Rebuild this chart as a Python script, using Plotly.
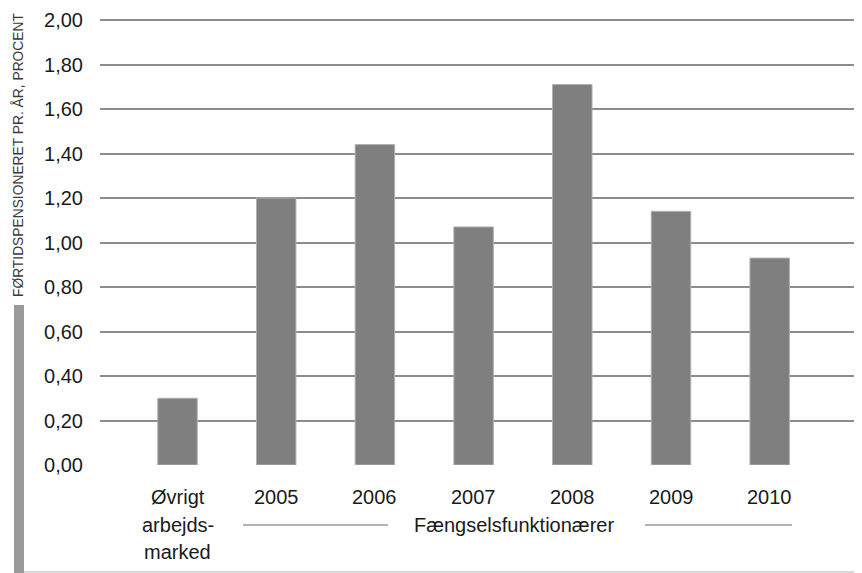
import plotly.graph_objects as go

categories = ["Øvrigt", "2005", "2006", "2007", "2008", "2009", "2010"]
values = [0.30, 1.20, 1.44, 1.07, 1.71, 1.14, 0.93]
extra_lines = ["arbejds-", "marked"]
group_label = "Fængselsfunktionærer"
y_title = "FØRTIDSPENSIONERET PR. ÅR, PROCENT"
y_ticks = [0.0, 0.2, 0.4, 0.6, 0.8, 1.0, 1.2, 1.4, 1.6, 1.8, 2.0]

# page coordinates (browser body has an 8px margin)
OFF = 8
W, H = 862, 573
Y0_PX, Y2_PX = 465, 20          # pixel rows of 0,00 and 2,00
PAD_TOP = 4                     # extra space above the 2,00 line
PL, PR, PT, PB = 100, 862, Y2_PX - PAD_TOP, Y0_PX
PW, PH = PR - PL, PB - PT
FONT = "Liberation Sans, Arial, Helvetica, sans-serif"
y_max = 2.0 * PH / (Y0_PX - Y2_PX)

xs = list(range(len(categories)))
x0_px = 177.5
px_per_unit = 98.7
x_range = [(PL - x0_px) / px_per_unit, (PR - x0_px) / px_per_unit]


def px_to_x(px):
    return (px - x0_px) / px_per_unit


def py_to_paper(py):
    return (PB - py) / PH


def px_to_paper(px):
    return (px - PL) / PW


fig = go.Figure()
fig.add_trace(go.Bar(
    x=xs, y=values, width=0.4,
    marker=dict(color="#7f7f7f", line=dict(color="#b0b0b0", width=1)),
    hoverinfo="y",
))

annotations = []
for i, c in enumerate(categories):
    annotations.append(dict(x=i, y=0, xref="x", yref="paper", text=c,
                            showarrow=False, yanchor="middle", yshift=-32,
                            font=dict(size=20, color="#1a1a1a", family=FONT)))
for j, t in enumerate(extra_lines):
    annotations.append(dict(x=0, y=0, xref="x", yref="paper", text=t,
                            showarrow=False, yanchor="middle", yshift=-60 - 27 * j,
                            font=dict(size=20, color="#1a1a1a", family=FONT)))
annotations.append(dict(x=px_to_x(514), y=py_to_paper(525), xref="x", yref="paper",
                        text=group_label, showarrow=False, yanchor="middle",
                        font=dict(size=20, color="#1a1a1a", family=FONT)))
annotations.append(dict(x=px_to_paper(18), y=py_to_paper(155), xref="paper", yref="paper",
                        text=y_title, showarrow=False, textangle=-90,
                        xanchor="center", yanchor="middle",
                        font=dict(size=13.8, color="#3a3a3a", family=FONT)))

shapes = [
    dict(type="line", xref="x", yref="paper", x0=px_to_x(243), x1=px_to_x(388),
         y0=py_to_paper(525), y1=py_to_paper(525), line=dict(color="#b3b3b3", width=2)),
    dict(type="line", xref="x", yref="paper", x0=px_to_x(645), x1=px_to_x(792),
         y0=py_to_paper(525), y1=py_to_paper(525), line=dict(color="#b3b3b3", width=2)),
    dict(type="rect", xref="paper", yref="paper", x0=px_to_paper(14), x1=px_to_paper(24),
         y0=py_to_paper(305), y1=py_to_paper(575), fillcolor="#9a9a9a", line=dict(width=0)),
    dict(type="line", xref="paper", yref="paper", x0=px_to_paper(24), x1=1,
         y0=py_to_paper(572), y1=py_to_paper(572), line=dict(color="#cccccc", width=1.5)),
]

fig.update_layout(
    width=W - OFF, height=H - OFF,
    margin=dict(l=PL - OFF, r=0, t=PT - OFF, b=(H - OFF) - (PB - OFF)),
    paper_bgcolor="white", plot_bgcolor="white",
    separators=",.",
    showlegend=False,
    xaxis=dict(range=x_range, showticklabels=False, showgrid=False, zeroline=False,
               showline=False, ticks=""),
    yaxis=dict(range=[0, y_max], tickvals=y_ticks, tickformat=".2f",
               showgrid=True, gridcolor="#8c8c8c", gridwidth=1.5,
               zeroline=False, showline=False, ticks="", ticklabelstandoff=16,
               tickfont=dict(size=20, color="#1a1a1a", family=FONT)),
    annotations=annotations,
    shapes=shapes,
)

fig.write_html("out.html")
